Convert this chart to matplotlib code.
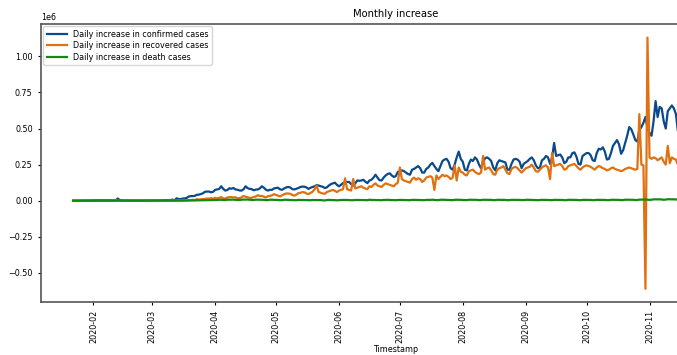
import numpy as np
import pandas as pd
import matplotlib
matplotlib.use('Agg')
import matplotlib.pyplot as plt
import matplotlib.dates as mdates

# daily increases in thousands, one line per month (Jan 22 .. Nov 16, 2020)
confirmed = [
    0.5, 0.1, 0.3, 0.5, 0.7, 0.8, 1.5, 1.2, 1.7, 2.0,
    2.1, 2.6, 3.1, 3.9, 3.7, 3.2, 3.4, 2.7, 3.0, 2.5, 2.1, 2.0, 15.2, 5.1, 2.6, 2.1, 2.0, 1.9, 1.8, 0.6, 1.0, 1.0, 0.6, 0.6, 0.9, 0.9, 1.1, 1.2, 1.9,
    2.4, 1.9, 2.6, 2.2, 2.8, 4.0, 3.9, 4.0, 3.7, 4.6, 7.5, 2.7, 16.8, 11.5, 11.3, 14.8, 15.9, 19.6, 29.0, 31.7, 31.8, 33.8, 41.0, 42.3, 46.2, 51.6, 62.0, 63.4, 63.5, 57.7, 61.8,
    75, 78, 82, 100, 82, 70, 74, 86, 83, 88, 78, 76, 71, 70, 79, 100, 87, 82, 80, 72, 77, 78, 85, 100, 90, 76, 70, 76, 75, 85,
    88, 90, 78, 76, 85, 92, 95, 92, 80, 78, 83, 88, 95, 98, 97, 92, 82, 90, 95, 100, 108, 105, 100, 97, 88, 92, 105, 115, 120, 125, 110,
    100, 110, 122, 127, 130, 130, 115, 105, 120, 140, 138, 140, 145, 132, 122, 140, 145, 160, 180, 160, 142, 140, 160, 175, 185, 190, 175, 165, 170, 200,
    205, 210, 205, 195, 185, 180, 215, 220, 230, 240, 225, 195, 195, 220, 230, 250, 262, 240, 220, 205, 240, 275, 285, 290, 270, 225, 215, 250, 300, 340, 290,
    270, 215, 210, 255, 285, 275, 300, 285, 250, 225, 265, 295, 300, 290, 275, 230, 210, 260, 280, 275, 270, 265, 215, 215, 255, 285, 290, 285, 270, 225, 255,
    265, 275, 290, 300, 280, 245, 225, 230, 280, 290, 310, 300, 255, 300, 400, 310, 315, 320, 300, 260, 270, 300, 300, 330, 335, 305, 255, 250, 310, 320,
    330, 330, 315, 280, 275, 330, 360, 355, 370, 340, 285, 290, 330, 380, 400, 420, 390, 325, 350, 400, 450, 510, 495, 460, 420, 410, 490, 510, 540, 580, 500,
    470, 450, 550, 690, 580, 650, 640, 550, 500, 620, 640, 660, 640, 600, 480, 500,
]

recovered = [
    0, 0, 0, 0, 0, 0, 0.03, 0.02, 0.02, 0.03,
    0.05, 0.08, 0.1, 0.2, 0.23, 0.35, 0.6, 0.5, 0.6, 0.7, 0.8, 0.8, 1.5, 1.5, 1.8, 1.5, 1.8, 2.0, 2.0, 2.5, 0.5, 2.7, 1.0, 2.4, 2.8, 2.6, 3.0, 3.3, 2.5,
    2.8, 2.8, 2.5, 2.4, 1.9, 2.1, 1.8, 1.2, 1.6, 1.8, 1.3, 1.4, 2.2, 2.6, 3.6, 2.2, 3.2, 2.4, 2.8, 4.3, 6.0, 3.5, 11.0, 7.5, 9.0, 11.0, 13.0, 15.0, 14.5, 18.0, 14.0,
    20, 16, 20, 25, 16, 15, 22, 25, 25, 23, 24, 17, 18, 23, 33, 27, 24, 20, 20, 26, 29, 38, 33, 33, 28, 22, 31, 33, 38, 45,
    40, 35, 30, 38, 45, 50, 50, 48, 40, 35, 42, 52, 55, 60, 58, 50, 45, 55, 62, 80, 105, 60, 55, 50, 48, 60, 65, 70, 75, 68, 60,
    70, 75, 80, 155, 80, 75, 70, 150, 85, 90, 95, 100, 90, 85, 80, 100, 95, 110, 120, 105, 100, 95, 110, 120, 115, 110, 105, 100, 115, 125,
    230, 150, 140, 135, 130, 125, 150, 160, 145, 155, 150, 130, 140, 160, 165, 170, 160, 75, 175, 150, 165, 180, 170, 175, 165, 150, 160, 245, 140, 230, 200,
    195, 180, 175, 205, 210, 215, 200, 190, 185, 195, 310, 215, 225, 230, 210, 185, 180, 215, 225, 230, 240, 215, 190, 185, 220, 230, 235, 225, 210, 195, 210,
    225, 230, 235, 250, 230, 205, 200, 215, 230, 240, 245, 230, 150, 330, 240, 245, 250, 255, 240, 215, 220, 240, 245, 250, 255, 240, 225, 215, 230, 240,
    245, 240, 235, 225, 215, 230, 240, 235, 225, 220, 210, 215, 225, 230, 220, 215, 210, 205, 210, 220, 225, 230, 225, 220, 215, 220, 600, 250, 245, -610, 1130,
    300, 290, 300, 295, 280, 290, 300, 270, 250, 380, 260, 300, 290, 285, 250, 260,
]

deaths = [
    0, 0, 0, 0, 0, 0, 0.03, 0.03, 0.04, 0.04,
    0.05, 0.05, 0.06, 0.07, 0.07, 0.08, 0.09, 0.09, 0.1, 0.1, 0.1, 0.1, 0.25, 0.14, 0.14, 0.1, 0.1, 0.1, 0.1, 0.1, 0.1, 0.1, 0.1, 0.15, 0.07, 0.05, 0.05, 0.05, 0.07,
    0.05, 0.07, 0.08, 0.1, 0.1, 0.1, 0.1, 0.2, 0.2, 0.3, 0.3, 0.4, 0.4, 0.4, 0.7, 0.7, 0.9, 1.0, 1.3, 1.5, 1.7, 1.7, 2.0, 2.3, 2.7, 2.8, 3.4, 3.6, 3.3, 3.6, 4.4,
    5.0, 5.4, 6.0, 6.5, 4.9, 4.8, 6.9, 7.4, 6.6, 7.5, 6.1, 5.4, 5.3, 7.0, 8.0, 7.7, 8.4, 6.6, 5.1, 4.9, 7.3, 7.0, 6.3, 6.2, 6.1, 4.0, 4.4, 6.8, 6.4, 5.7,
    5.4, 5.2, 3.6, 4.0, 6.2, 6.4, 5.6, 5.5, 4.6, 3.6, 3.5, 5.5, 5.3, 5.1, 5.1, 4.4, 3.5, 3.4, 4.9, 4.8, 5.1, 5.3, 4.2, 3.1, 1.7, 4.5, 5.7, 4.7, 4.6, 3.8, 2.9,
    3.4, 4.6, 5.4, 5.3, 4.9, 4.2, 3.3, 3.6, 4.9, 5.1, 5.1, 4.8, 4.2, 3.3, 3.6, 6.7, 5.3, 5.0, 5.4, 4.1, 3.5, 3.6, 5.4, 5.3, 6.4, 4.9, 4.4, 3.3, 3.8, 5.0,
    5.6, 5.3, 5.0, 4.2, 3.7, 3.5, 6.0, 5.7, 5.6, 5.3, 5.0, 3.9, 3.8, 5.5, 6.1, 5.5, 6.9, 5.4, 4.1, 3.9, 6.4, 6.8, 6.3, 6.5, 5.2, 4.2, 4.0, 6.0, 7.0, 6.1, 6.2,
    5.3, 4.0, 4.4, 6.2, 6.7, 6.2, 6.5, 5.1, 4.3, 4.5, 6.4, 6.4, 6.1, 6.2, 5.7, 4.0, 3.9, 6.4, 6.3, 6.0, 5.8, 5.3, 3.8, 4.1, 6.0, 6.1, 5.7, 5.7, 5.2, 4.0, 4.3,
    6.0, 6.4, 5.8, 5.8, 5.1, 4.0, 3.6, 5.1, 6.0, 5.9, 5.7, 5.3, 3.9, 4.1, 6.0, 5.9, 5.7, 5.5, 5.1, 3.8, 3.7, 6.3, 6.2, 5.8, 5.8, 5.3, 4.0, 3.7, 5.9, 5.9,
    6.3, 5.9, 5.3, 3.8, 3.9, 6.0, 6.0, 5.8, 6.0, 5.4, 4.0, 3.9, 5.9, 6.4, 6.1, 6.2, 5.6, 4.1, 4.4, 7.0, 6.9, 6.6, 6.9, 6.2, 4.6, 4.8, 7.5, 7.5, 7.9, 8.2, 6.7,
    5.9, 6.9, 9.5, 9.5, 9.0, 9.4, 8.6, 6.6, 7.9, 10.3, 10.0, 9.9, 10.0, 8.9, 7.5, 7.8,
]

dates = pd.date_range('2020-01-22', periods=len(confirmed), freq='D')
# month ticks that fall inside the visible part of the picture
month_ticks = pd.date_range('2020-02-01', '2020-11-01', freq='MS')

fs = 5.8
fig = plt.figure(figsize=(6.77, 3.55), dpi=100)
# the original screenshot is cut on the right, so the axes run past the figure edge
ax = fig.add_axes([0.0606, 0.150, 1.0487, 0.7823])

ax.plot(dates, np.array(confirmed) * 1000, color='#0a4a8a', lw=1.6,
        label='Daily increase in confirmed cases')
ax.plot(dates, np.array(recovered) * 1000, color='#e07010', lw=1.6,
        label='Daily increase in recovered cases')
ax.plot(dates, np.array(deaths) * 1000, color='#108a10', lw=1.6,
        label='Daily increase in death cases')

ax.set_xlim(pd.Timestamp('2020-01-06 05:00'), pd.Timestamp('2020-12-21'))
ax.set_ylim(-0.70e6, 1.224e6)
ax.set_yticks([-0.5e6, -0.25e6, 0, 0.25e6, 0.5e6, 0.75e6, 1.0e6])
ax.set_xticks(month_ticks)
ax.xaxis.set_major_formatter(mdates.DateFormatter('%Y-%m'))

ax.tick_params(labelsize=fs, length=2.5, width=0.8)
plt.setp(ax.get_xticklabels(), rotation=90)
ax.yaxis.get_offset_text().set_fontsize(fs)
for s in ax.spines.values():
    s.set_color('#555555')
    s.set_linewidth(1.2)

ax.set_title('Monthly increase', fontsize=7.2, pad=5)
ax.set_xlabel('Timestamp', fontsize=fs, labelpad=1)
ax.legend(loc='upper left', fontsize=fs, handlelength=2.5, borderaxespad=0.3,
          labelspacing=0.3)

fig.savefig('out.png', dpi=100)
